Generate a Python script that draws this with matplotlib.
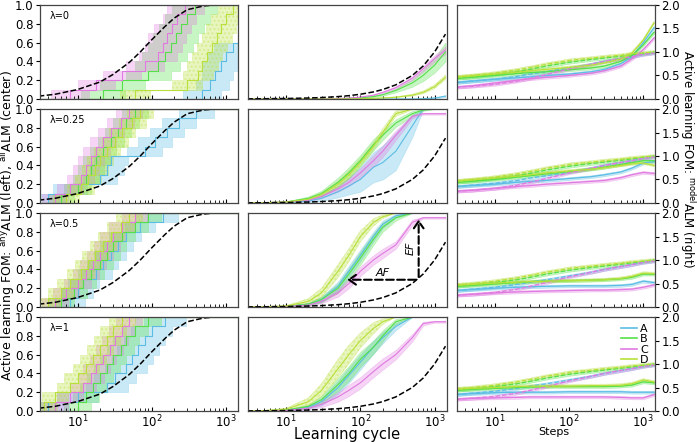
import numpy as np
import matplotlib.pyplot as plt
from matplotlib.lines import Line2D
from matplotlib.ticker import LogLocator, NullFormatter

methods = ["A", "B", "C", "D"]
colors = {"A": "#5bbde4", "B": "#55e04a", "C": "#e07ae0", "D": "#b8e03a"}
lambda_labels = ["λ=0", "λ=0.25", "λ=0.5", "λ=1"]

# ---- left column: learning cycle at which anyALM reaches each level ----
levels = [0.1, 0.2, 0.3, 0.4, 0.5, 0.6, 0.7, 0.8, 0.9, 1.0]
left_r0 = {"A": [480, 600, 700, 850, 1000, 1250, None, None, None, None],
           "B": [22, 40, 90, 120, 150, 180, 210, 250, 300, 380],
           "C": [8, 18, 40, 80, 120, 140, 160, 190, 220, 280],
           "D": [60, 300, 420, 480, 550, 650, 750, 850, 1000, 1250]}
left_r1 = {"A": [4, 8, 20, 25, 28, 80, 110, 160, 230, 400],
           "B": [6, 10, 13, 15, 18, 22, 28, 35, 45, 60],
           "C": [5, 8, 11, 13, 15, 18, 22, 28, 38, 50],
           "D": [7, 11, 14, 17, 20, 25, 32, 40, 55, 70]}
left_r2 = {"A": [8, 10, 12, 18, 22, 28, 35, 45, 70, 140],
           "B": [6, 9, 12, 15, 20, 25, 30, 40, 60, 90],
           "C": [5, 7, 10, 13, 16, 20, 25, 30, 40, 60],
           "D": [4, 6, 8, 11, 14, 17, 22, 28, 38, 50]}
left_r3 = {"A": [4, 10, 25, 32, 45, 55, 65, 80, 100, 150],
           "B": [10, 13, 16, 20, 25, 30, 38, 45, 60, 90],
           "C": [5, 8, 12, 15, 18, 22, 27, 32, 40, 50],
           "D": [3.5, 5, 8, 10, 13, 16, 20, 25, 30, 40]}
left_rows = [left_r0, left_r1, left_r2, left_r3]
# spread factor (along learning cycle) of the left-column bands, order A B C D
left_spread = [[1.8, 2.0, 1.8, 1.6],
               [1.7, 1.5, 1.5, 1.5],
               [1.6, 1.5, 1.5, 1.5],
               [1.9, 1.5, 1.5, 1.5]]

left_ref_x = [3, 5, 10, 20, 30, 50, 70, 100, 150, 200, 300, 500, 700]
left_ref_y = [0.03, 0.05, 0.1, 0.18, 0.26, 0.39, 0.5, 0.63, 0.77, 0.86, 0.95, 0.99, 1.0]

# ---- middle column: allALM ----
mid_x = [3, 5, 10, 20, 30, 50, 70, 100, 150, 200, 300, 500, 700, 1000, 1400]
mid_ref = [0.0015, 0.0025, 0.005, 0.01, 0.015, 0.025, 0.035, 0.05, 0.075, 0.1,
           0.15, 0.25, 0.35, 0.5, 0.69]

mid_r0 = {"A": [0, 0, 0, 0, 0, 0, 0, 0, 0, 0, 0, 0, 0.003, 0.01, 0.03],
          "B": [0, 0, 0, 0, 0.002, 0.004, 0.007, 0.012, 0.025, 0.045, 0.09, 0.17, 0.25, 0.36, 0.5],
          "C": [0, 0, 0, 0, 0.002, 0.005, 0.009, 0.02, 0.04, 0.07, 0.12, 0.22, 0.32, 0.43, 0.52],
          "D": [0, 0, 0, 0, 0, 0, 0.001, 0.003, 0.006, 0.01, 0.018, 0.04, 0.07, 0.13, 0.23]}
mid_r0_sd = {"A": [0, 0, 0, 0, 0, 0, 0, 0, 0, 0, 0, 0, 0.003, 0.006, 0.01],
             "B": [0, 0, 0, 0, 0.001, 0.002, 0.003, 0.005, 0.008, 0.012, 0.02, 0.04, 0.06, 0.08, 0.1],
             "C": [0, 0, 0, 0, 0.001, 0.002, 0.003, 0.004, 0.006, 0.008, 0.012, 0.02, 0.03, 0.035, 0.04],
             "D": [0, 0, 0, 0, 0, 0, 0, 0.001, 0.002, 0.003, 0.005, 0.01, 0.015, 0.02, 0.025]}

mid_r1 = {"A": [0, 0, 0.005, 0.02, 0.05, 0.12, 0.18, 0.25, 0.38, 0.43, 0.55, 0.82, 1.0, 1.0, 1.0],
          "B": [0, 0.002, 0.01, 0.05, 0.1, 0.22, 0.32, 0.45, 0.62, 0.72, 0.85, 0.95, 0.99, 1.0, 1.0],
          "C": [0, 0.002, 0.01, 0.03, 0.07, 0.15, 0.22, 0.32, 0.45, 0.55, 0.72, 0.92, 0.95, 0.95, 0.95],
          "D": [0, 0.002, 0.01, 0.04, 0.09, 0.2, 0.3, 0.43, 0.6, 0.75, 0.95, 1.0, 1.0, 1.0, 1.0]}
mid_r1_sd = {"A": [0, 0, 0.003, 0.01, 0.03, 0.06, 0.09, 0.13, 0.16, 0.18, 0.2, 0.12, 0.01, 0, 0],
             "B": [0, 0.001, 0.005, 0.02, 0.03, 0.05, 0.06, 0.06, 0.06, 0.05, 0.04, 0.03, 0.01, 0, 0],
             "C": [0, 0.001, 0.004, 0.01, 0.02, 0.03, 0.04, 0.05, 0.06, 0.06, 0.05, 0.02, 0.01, 0.01, 0.01],
             "D": [0, 0.001, 0.004, 0.01, 0.02, 0.03, 0.04, 0.04, 0.04, 0.04, 0.03, 0.01, 0, 0, 0]}

mid_r2 = {"A": [0, 0.001, 0.005, 0.03, 0.08, 0.22, 0.38, 0.55, 0.75, 0.88, 0.97, 1.0, 1.0, 1.0, 1.0],
          "B": [0, 0.001, 0.005, 0.03, 0.08, 0.2, 0.35, 0.52, 0.72, 0.85, 0.95, 1.0, 1.0, 1.0, 1.0],
          "C": [0, 0.001, 0.005, 0.02, 0.06, 0.15, 0.25, 0.38, 0.5, 0.57, 0.66, 0.9, 0.95, 0.95, 0.95],
          "D": [0, 0.002, 0.01, 0.06, 0.15, 0.38, 0.55, 0.75, 0.9, 0.96, 1.0, 1.0, 1.0, 1.0, 1.0]}
mid_r2_sd = {"A": [0, 0.001, 0.003, 0.015, 0.03, 0.05, 0.06, 0.06, 0.05, 0.04, 0.02, 0, 0, 0, 0],
             "B": [0, 0.001, 0.003, 0.015, 0.03, 0.05, 0.06, 0.07, 0.06, 0.05, 0.03, 0, 0, 0, 0],
             "C": [0, 0.001, 0.003, 0.01, 0.02, 0.04, 0.05, 0.05, 0.05, 0.05, 0.04, 0.03, 0.01, 0.01, 0.01],
             "D": [0, 0.001, 0.005, 0.03, 0.05, 0.07, 0.07, 0.06, 0.04, 0.02, 0, 0, 0, 0, 0]}

mid_r3 = {"A": [0, 0.002, 0.01, 0.04, 0.1, 0.25, 0.38, 0.52, 0.68, 0.78, 0.9, 1.0, 1.0, 1.0, 1.0],
          "B": [0, 0.002, 0.01, 0.05, 0.12, 0.28, 0.4, 0.55, 0.68, 0.8, 0.95, 1.0, 1.0, 1.0, 1.0],
          "C": [0, 0.001, 0.005, 0.03, 0.07, 0.15, 0.22, 0.3, 0.42, 0.5, 0.6, 0.78, 0.93, 0.95, 0.95],
          "D": [0, 0.004, 0.02, 0.1, 0.22, 0.45, 0.6, 0.75, 0.88, 0.95, 1.0, 1.0, 1.0, 1.0, 1.0]}
mid_r3_sd = {"A": [0, 0.001, 0.005, 0.02, 0.04, 0.07, 0.08, 0.08, 0.07, 0.06, 0.04, 0, 0, 0, 0],
             "B": [0, 0.001, 0.005, 0.02, 0.04, 0.07, 0.08, 0.08, 0.07, 0.06, 0.03, 0, 0, 0, 0],
             "C": [0, 0.001, 0.003, 0.015, 0.03, 0.05, 0.06, 0.06, 0.06, 0.06, 0.05, 0.04, 0.02, 0.01, 0.01],
             "D": [0, 0.002, 0.01, 0.04, 0.07, 0.1, 0.1, 0.08, 0.06, 0.03, 0, 0, 0, 0, 0]}

mid_rows = [mid_r0, mid_r1, mid_r2, mid_r3]
mid_sds = [mid_r0_sd, mid_r1_sd, mid_r2_sd, mid_r3_sd]

# ---- right column: modelALM vs steps ----
right_x = [3, 5, 10, 20, 30, 50, 100, 200, 300, 500, 700, 1000, 1400]
right_dashed = {"A": [0.35, 0.38, 0.42, 0.48, 0.53, 0.58, 0.66, 0.74, 0.8, 0.86, 0.9, 0.95, 0.98],
                "B": [0.44, 0.47, 0.52, 0.58, 0.63, 0.7, 0.78, 0.84, 0.87, 0.91, 0.94, 0.97, 1.0],
                "C": [0.25, 0.27, 0.31, 0.38, 0.44, 0.52, 0.64, 0.74, 0.8, 0.86, 0.9, 0.95, 0.98],
                "D": [0.47, 0.5, 0.55, 0.62, 0.67, 0.74, 0.82, 0.87, 0.9, 0.93, 0.96, 0.98, 1.0]}
right_r0 = {"A": [0.35, 0.38, 0.42, 0.45, 0.47, 0.5, 0.53, 0.58, 0.63, 0.75, 0.9, 1.2, 1.52],
            "B": [0.44, 0.46, 0.5, 0.54, 0.56, 0.58, 0.62, 0.66, 0.7, 0.8, 0.92, 1.15, 1.42],
            "C": [0.25, 0.28, 0.34, 0.4, 0.43, 0.46, 0.5, 0.55, 0.6, 0.7, 0.85, 1.05, 1.3],
            "D": [0.46, 0.49, 0.53, 0.57, 0.6, 0.63, 0.67, 0.72, 0.77, 0.85, 0.97, 1.25, 1.62]}
right_r1 = {"A": [0.35, 0.37, 0.4, 0.44, 0.46, 0.48, 0.52, 0.56, 0.6, 0.66, 0.74, 0.85, 0.88],
            "B": [0.44, 0.46, 0.5, 0.55, 0.58, 0.62, 0.67, 0.72, 0.76, 0.82, 0.86, 0.9, 0.9],
            "C": [0.25, 0.27, 0.31, 0.35, 0.37, 0.4, 0.43, 0.46, 0.48, 0.54, 0.6, 0.65, 0.63],
            "D": [0.46, 0.49, 0.53, 0.57, 0.6, 0.64, 0.68, 0.72, 0.75, 0.8, 0.83, 0.85, 0.8]}
right_r2 = {"A": [0.35, 0.37, 0.4, 0.42, 0.43, 0.44, 0.45, 0.45, 0.45, 0.46, 0.48, 0.55, 0.52],
            "B": [0.44, 0.46, 0.49, 0.52, 0.54, 0.55, 0.56, 0.57, 0.58, 0.6, 0.63, 0.7, 0.7],
            "C": [0.25, 0.27, 0.3, 0.32, 0.33, 0.34, 0.35, 0.36, 0.36, 0.37, 0.38, 0.42, 0.47],
            "D": [0.46, 0.48, 0.51, 0.53, 0.54, 0.55, 0.56, 0.57, 0.58, 0.61, 0.65, 0.72, 0.71]}
right_r3 = {"A": [0.35, 0.37, 0.39, 0.4, 0.4, 0.4, 0.41, 0.41, 0.41, 0.41, 0.4, 0.4, 0.4],
            "B": [0.44, 0.46, 0.48, 0.5, 0.51, 0.52, 0.52, 0.52, 0.52, 0.53, 0.55, 0.62, 0.6],
            "C": [0.25, 0.27, 0.28, 0.29, 0.3, 0.3, 0.3, 0.3, 0.3, 0.29, 0.28, 0.28, 0.35],
            "D": [0.46, 0.48, 0.5, 0.52, 0.53, 0.53, 0.53, 0.54, 0.54, 0.55, 0.58, 0.66, 0.62]}
right_rows = [right_r0, right_r1, right_r2, right_r3]
right_sd = 0.03

XMIN, XMAX = 3.1, 1450


def band(ax, x, lo, hi, m, step=None):
    c = colors[m]
    kw = dict(facecolor=c, alpha=0.32, edgecolor=c, linewidth=0.5)
    if m == "D":
        kw["hatch"] = "...."
    ax.fill_between(x, lo, hi, step=step, **kw)


def stair_at(cross, grid, factor=1.0):
    y = np.zeros(len(grid))
    for lv, xc in zip(levels, cross):
        if xc is None:
            break
        y[grid >= xc * factor] = lv
    return y


fig, axes = plt.subplots(4, 3, figsize=(6.97, 4.42), dpi=100)
fig.subplots_adjust(left=0.057, right=0.94, top=0.9887, bottom=0.0701,
                    wspace=0.052, hspace=0.107)

for r in range(4):
    axl, axm, axr = axes[r]

    # left
    for i, m in enumerate(methods):
        cross = left_rows[r][m]
        f = left_spread[r][i]
        pts = [c for c in cross if c is not None]
        grid = np.unique(np.clip(np.concatenate([[XMIN, XMAX], pts,
                                                 np.array(pts) * f, np.array(pts) / f]),
                                 XMIN, XMAX))
        band(axl, grid, stair_at(cross, grid, f), stair_at(cross, grid, 1 / f), m, step="post")
    for m in methods:
        cross = left_rows[r][m]
        pts = [c for c in cross if c is not None]
        grid = np.unique(np.concatenate([[XMIN, XMAX], pts]))
        axl.step(grid, stair_at(cross, grid), where="post", color=colors[m], lw=0.8)
    axl.plot(left_ref_x, left_ref_y, "k--", lw=1.1)
    axl.set_ylim(0, 1)
    axl.set_yticks([0, 0.2, 0.4, 0.6, 0.8, 1.0])
    axl.text(0.05, 0.88, lambda_labels[r], transform=axl.transAxes, fontsize=7, va="center")

    # middle
    for m in methods:
        y = np.array(mid_rows[r][m])
        s = np.array(mid_sds[r][m])
        band(axm, mid_x, np.clip(y - s, 0, 1), np.clip(y + s, 0, 1), m)
    for m in methods:
        axm.plot(mid_x, mid_rows[r][m], color=colors[m], lw=0.8)
    axm.plot(mid_x, mid_ref, "k--", lw=1.1)
    axm.set_ylim(0, 1)
    axm.set_yticks([])

    # right
    for m in methods:
        for series in (right_dashed[m], right_rows[r][m]):
            y = np.array(series)
            band(axr, right_x, y - right_sd, y + right_sd, m)
    for m in methods:
        axr.plot(right_x, right_dashed[m], color=colors[m], lw=0.9, ls="--")
        axr.plot(right_x, right_rows[r][m], color=colors[m], lw=0.9)
    axr.set_ylim(0, 2)
    axr.set_yticks([0, 0.5, 1.0, 1.5, 2.0])
    axr.yaxis.tick_right()

    for ax in (axl, axm, axr):
        ax.set_xscale("log")
        ax.set_xlim(XMIN, XMAX)
        ax.xaxis.set_major_locator(LogLocator(base=10, numticks=10))
        ax.xaxis.set_minor_locator(LogLocator(base=10, subs=np.arange(2, 10), numticks=10))
        ax.xaxis.set_minor_formatter(NullFormatter())
        ax.tick_params(axis="x", which="both", direction="in", labelsize=8.5, pad=2)
        ax.tick_params(axis="x", which="major", length=3)
        ax.tick_params(axis="x", which="minor", length=2)
        ax.tick_params(axis="y", labelsize=8.5, length=3, pad=1.5)
        for sp in ax.spines.values():
            sp.set_color("#444444")
            sp.set_linewidth(0.9)
        if r < 3:
            ax.set_xticklabels([])

# arrows in the lambda=0.5 middle panel
ax = axes[2, 1]
arrow = dict(arrowstyle="->,head_width=0.35,head_length=0.5", linestyle="--", lw=1.5, color="k")
ax.annotate("", xy=(61, 0.29), xytext=(610, 0.29), arrowprops=arrow)
ax.annotate("", xy=(610, 0.96), xytext=(610, 0.29), arrowprops=arrow)
ax.text(200, 0.36, "AF", fontsize=8, style="italic", ha="center", va="center")
ax.text(470, 0.62, "EF", fontsize=8, style="italic", rotation=90, ha="center", va="center")

handles = [Line2D([], [], color=colors[m], lw=1.2) for m in methods]
axes[3, 2].legend(handles, methods, loc="upper right", fontsize=8, frameon=False,
                  handlelength=1.4, handletextpad=0.3, labelspacing=0.05,
                  borderaxespad=0.2)

fig.text(0.0115, 0.49, r"Active learning FOM: $^{\mathrm{any}}$ALM (left), $^{\mathrm{all}}$ALM (center)",
         rotation=90, ha="center", va="center", fontsize=9)
fig.text(0.987, 0.64, r"Active learning FOM: $^{\mathrm{model}}$ALM (right)",
         rotation=270, ha="center", va="center", fontsize=8.5)
fig.text(0.4985, 0.016, "Learning cycle", ha="center", va="center", fontsize=10.5)
fig.text(0.795, 0.022, "Steps", ha="center", va="center", fontsize=8)

fig.savefig("out.png", dpi=100)
